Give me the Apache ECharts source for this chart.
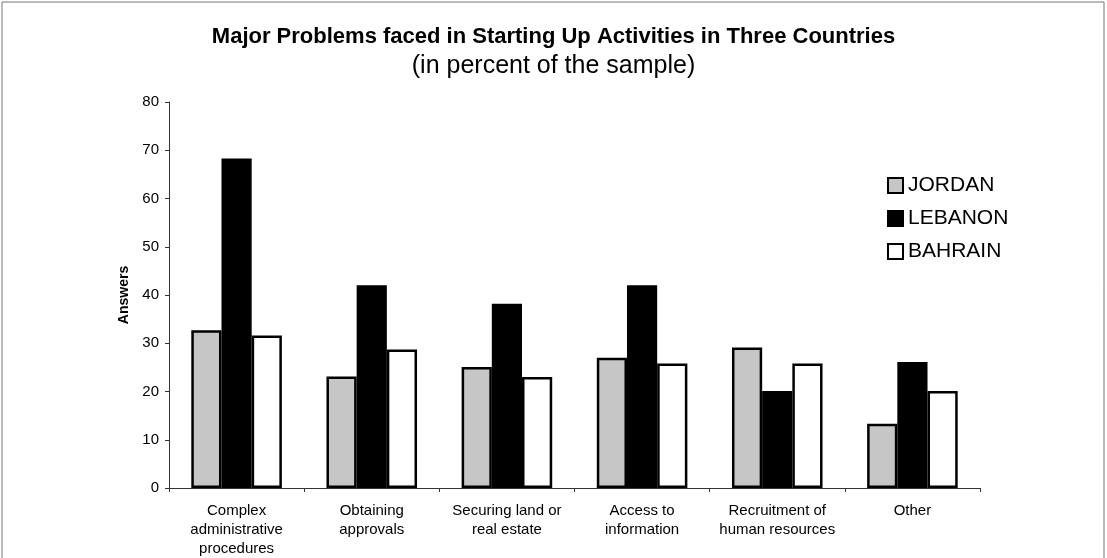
<!DOCTYPE html>
<html>
<head>
<meta charset="utf-8">
<script src="https://cdn.jsdelivr.net/npm/echarts@6/dist/echarts.min.js"></script>
<style>
html,body{margin:0;padding:0;background:#fff;}
#chart{width:1107px;height:558px;}
</style>
</head>
<body>
<div id="chart"></div>
<script>
var categories = ['Complex\nadministrative\nprocedures', 'Obtaining\napprovals', 'Securing land or\nreal estate', 'Access to\ninformation', 'Recruitment of\nhuman resources', 'Other'];
var jordan = [32.7, 23.1, 25.1, 27, 29.1, 13.3];
var lebanon = [68.3, 42, 38.2, 42, 20.1, 26.1];
var bahrain = [31.6, 28.7, 23, 25.8, 25.8, 20.1];
var yTicks = [0, 10, 20, 30, 40, 50, 60, 70, 80];

var font = 'Arial, "Liberation Sans", sans-serif';
var chart = echarts.init(document.getElementById('chart'));
chart.setOption({
  animation: false,
  backgroundColor: '#fff',
  title: [{
    text: 'Major Problems faced in Starting Up Activities in Three Countries',
    left: 'center', top: 21,
    textStyle: {fontFamily: font, fontSize: 22, fontWeight: 'bold', color: '#000'}
  }, {
    text: '(in percent of the sample)',
    left: 'center', top: 49,
    textStyle: {fontFamily: font, fontSize: 25, fontWeight: 'normal', color: '#000'}
  }],
  graphic: [{
    type: 'rect', shape: {x: 2, y: 2, width: 1102, height: 562},
    style: {fill: 'none', stroke: '#777', lineWidth: 1}, silent: true
  }],
  legend: {
    orient: 'vertical', left: 882, top: 170,
    itemWidth: 15, itemHeight: 15, itemGap: 12,
    icon: 'rect',
    textStyle: {fontFamily: font, fontSize: 21, color: '#000', padding: [0, 0, 0, 0]},
    data: ['JORDAN', 'LEBANON', 'BAHRAIN']
  },
  grid: {left: 169, right: 127, top: 102, bottom: 70},
  xAxis: {
    type: 'category', data: categories,
    axisLine: {lineStyle: {color: '#333', width: 1}},
    axisTick: {show: true, length: 4, lineStyle: {color: '#333'}},
    axisLabel: {interval: 0, fontFamily: font, fontSize: 15, color: '#000', lineHeight: 19, margin: 13}
  },
  yAxis: {
    type: 'value', min: 0, max: 80, interval: 10,
    name: 'Answers', nameLocation: 'middle', nameGap: 37, nameRotate: 90,
    nameTextStyle: {fontFamily: font, fontSize: 14, fontWeight: 'bold', color: '#000'},
    axisLine: {show: true, lineStyle: {color: '#333', width: 1}},
    axisTick: {show: true, length: 4, lineStyle: {color: '#333'}},
    splitLine: {show: false},
    axisLabel: {fontFamily: font, fontSize: 15, color: '#000', margin: 10,
      formatter: function (v) { return yTicks.indexOf(v) >= 0 ? String(v) : ''; }}
  },
  series: [{
    name: 'JORDAN', type: 'bar', data: jordan, barGap: '0%', barCategoryGap: '33%',
    itemStyle: {color: '#c6c6c6', borderColor: '#000', borderWidth: 2.5}
  }, {
    name: 'LEBANON', type: 'bar', data: lebanon,
    itemStyle: {color: '#000', borderColor: '#000', borderWidth: 2.5}
  }, {
    name: 'BAHRAIN', type: 'bar', data: bahrain,
    itemStyle: {color: '#fff', borderColor: '#000', borderWidth: 2.5}
  }]
});
</script>
</body>
</html>
